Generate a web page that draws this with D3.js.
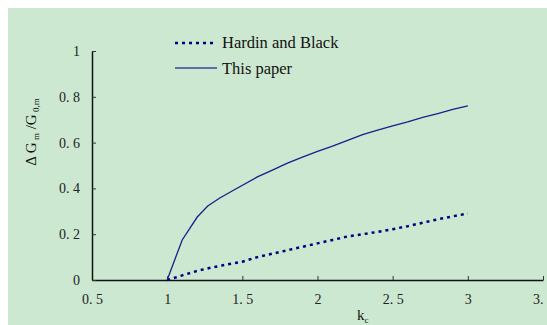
<!DOCTYPE html>
<html>
<head>
<meta charset="utf-8">
<script src="https://cdn.jsdelivr.net/npm/d3@7"></script>
<style>
  body { margin: 0; background: #fff; }
  svg { display: block; font-family: "Liberation Serif", "DejaVu Serif", serif; }
</style>
</head>
<body>
<div id="chart"></div>
<script>
// Data
const xTicks = [0.5, 1, 1.5, 2, 2.5, 3, 3.5];
const xTickLabels = ["0. 5", "1", "1. 5", "2", "2. 5", "3", "3. 5"];
const yTicks = [0, 0.2, 0.4, 0.6, 0.8, 1];
const yTickLabels = ["0", "0. 2", "0. 4", "0. 6", "0. 8", "1"];

const kc = [1.0, 1.1, 1.2, 1.3, 1.4, 1.5, 1.6, 1.7, 1.8, 1.9, 2.0, 2.1, 2.2, 2.3, 2.4, 2.5, 2.6, 2.7, 2.8, 2.9, 3.0];
const hardinBlack = [0, 0.02, 0.04, 0.055, 0.068, 0.08, 0.1, 0.115, 0.13, 0.145, 0.16, 0.175, 0.19, 0.2, 0.21, 0.222, 0.235, 0.25, 0.265, 0.278, 0.29];

const kcPaper = [1.0, 1.1, 1.2, 1.27, 1.35, 1.45, 1.6, 1.7, 1.8, 1.9, 2.0, 2.1, 2.2, 2.3, 2.4, 2.5, 2.6, 2.7, 2.8, 2.9, 3.0];
const thisPaper = [0, 0.175, 0.275, 0.323, 0.358, 0.395, 0.45, 0.48, 0.51, 0.537, 0.562, 0.585, 0.61, 0.635, 0.655, 0.673, 0.69, 0.71, 0.727, 0.745, 0.76];

const width = 547;
const height = 325;

const svg = d3.select("#chart")
              .append("svg")
              .attr("width", width)
              .attr("height", height);

// green plot background
svg.append("rect")
   .attr("x", 8)
   .attr("y", 8)
   .attr("width", width - 8)
   .attr("height", height - 8)
   .attr("fill", "#cde8d0");

const xScale = d3.scaleLinear().domain([0.5, 3.5]).range([92, 543]);
const yScale = d3.scaleLinear().domain([0, 1]).range([280, 51]);

// Axes (ticks point inward)
const xAxis = svg.append("g")
   .attr("transform", "translate(0,280)")
   .call(d3.axisBottom(xScale)
           .tickValues(xTicks)
           .tickFormat((d, i) => xTickLabels[i])
           .tickSizeInner(-4)
           .tickSizeOuter(0)
           .tickPadding(14));

const yAxis = svg.append("g")
   .attr("transform", "translate(92,0)")
   .call(d3.axisLeft(yScale)
           .tickValues(yTicks)
           .tickFormat((d, i) => yTickLabels[i])
           .tickSizeInner(-4)
           .tickSizeOuter(0)
           .tickPadding(12));

[xAxis, yAxis].forEach(ax => {
  ax.select(".domain").attr("stroke", "#111").attr("stroke-width", 1.5);
  ax.selectAll(".tick line").attr("stroke", "#333").attr("stroke-width", 1);
  ax.selectAll(".tick text")
    .attr("fill", "#222")
    .style("font-family", "'Liberation Serif', serif")
    .style("font-size", "14px");
});

// Lines
const hbData = kc.map((k, i) => [k, hardinBlack[i]]);
const tpData = kcPaper.map((k, i) => [k, thisPaper[i]]);

const line = d3.line()
               .x(d => xScale(d[0]))
               .y(d => yScale(d[1]));

svg.append("path")
   .datum(hbData)
   .attr("d", line)
   .attr("fill", "none")
   .attr("stroke", "#000080")
   .attr("stroke-width", 2.5)
   .attr("stroke-dasharray", "3,4");

svg.append("path")
   .datum(tpData)
   .attr("d", line)
   .attr("fill", "none")
   .attr("stroke", "#1c1c8c")
   .attr("stroke-width", 1.3);

// Legend
const legend = svg.append("g");
legend.append("line")
      .attr("x1", 175).attr("x2", 217)
      .attr("y1", 43).attr("y2", 43)
      .attr("stroke", "#000080")
      .attr("stroke-width", 2.5)
      .attr("stroke-dasharray", "3,4");
legend.append("text")
      .attr("x", 222).attr("y", 48)
      .attr("font-size", 16.5)
      .attr("fill", "#111")
      .text("Hardin and Black");
legend.append("line")
      .attr("x1", 175).attr("x2", 217)
      .attr("y1", 68).attr("y2", 68)
      .attr("stroke", "#3a44a0")
      .attr("stroke-width", 1.3);
legend.append("text")
      .attr("x", 222).attr("y", 74)
      .attr("font-size", 16.5)
      .attr("fill", "#111")
      .text("This paper");

// Axis titles
const xTitle = svg.append("text")
   .attr("x", 357)
   .attr("y", 320)
   .attr("font-size", 15)
   .attr("fill", "#111");
xTitle.append("tspan").text("k");
xTitle.append("tspan").attr("font-size", 9).attr("dy", 3).text("c");

const yTitle = svg.append("text")
   .attr("transform", "translate(36,132) rotate(-90)")
   .attr("text-anchor", "middle")
   .attr("font-size", 15)
   .attr("fill", "#111");
yTitle.append("tspan").text("\u0394 G");
yTitle.append("tspan").attr("font-size", 9).attr("dy", 3).text(" m");
yTitle.append("tspan").attr("dy", -3).text(" /G");
yTitle.append("tspan").attr("font-size", 9).attr("dy", 3).text(" 0,m");
</script>
</body>
</html>
